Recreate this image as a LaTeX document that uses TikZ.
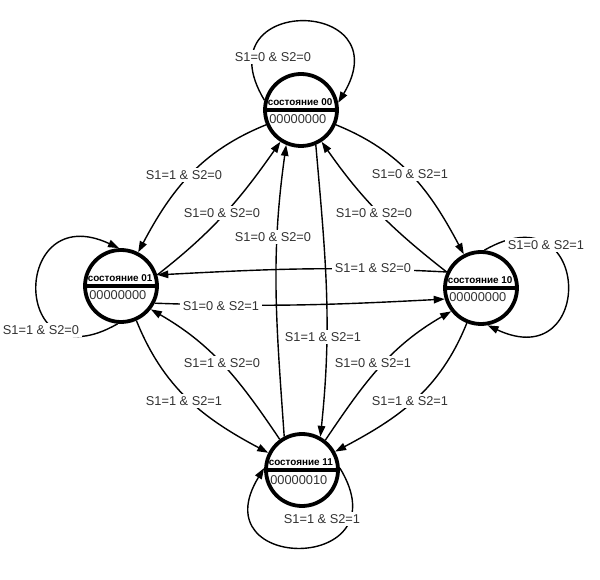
\documentclass[tikz,border=0pt]{standalone}
\usepackage{fontspec}
\setmainfont{Liberation Sans}
\usetikzlibrary{arrows.meta}
\definecolor{txt}{RGB}{50,50,50}
\begin{document}
\begin{tikzpicture}[x=1pt,y=1pt,
 state/.style={circle,draw=black,line width=3.8pt,minimum size=72pt,inner sep=0pt},
 sepline/.style={line width=3.6pt},
 title/.style={font=\fontsize{9.9}{10}\selectfont\bfseries,inner sep=0pt,anchor=base west},
 code/.style={font=\fontsize{12.8}{14}\selectfont,text=txt,inner sep=0pt,anchor=base west},
 lbl/.style={font=\fontsize{12.8}{14}\selectfont,text=txt,fill=white,inner sep=2.5pt},
 edge/.style={line width=1.4pt,-{Triangle[length=11pt,width=7.5pt]}},
]
\useasboundingbox (0,0) rectangle (600,579);
\fill[white] (0,0) rectangle (600,579);

% states
\node[state] (A) at (301,469) {};
\node[state] (B) at (121,293) {};
\node[state] (C) at (481,291) {};
\node[state] (D) at (302,109) {};

\draw[sepline] (A.west) -- (A.east);
\draw[sepline] (B.west) -- (B.east);
\draw[sepline] (C.west) -- (C.east);
\draw[sepline] (D.west) -- (D.east);

\node[title] (At) at ([xshift=4.5pt,yshift=4.5pt]A.west) {состояние 00};
\node[code]  (Ac) at ([xshift=6pt,yshift=-14pt]A.west) {00000000};
\node[title] (Bt) at ([xshift=4.5pt,yshift=4.5pt]B.west) {состояние 01};
\node[code]  (Bc) at ([xshift=6pt,yshift=-14pt]B.west) {00000000};
\node[title] (Ct) at ([xshift=4.5pt,yshift=4.5pt]C.west) {состояние 10};
\node[code]  (Cc) at ([xshift=6pt,yshift=-14pt]C.west) {00000000};
\node[title] (Dt) at ([xshift=4.5pt,yshift=4.5pt]D.west) {состояние 11};
\node[code]  (Dc) at ([xshift=6pt,yshift=-14pt]D.west) {00000010};

% transitions
\draw[edge] (A.203) to[out=202,in=62] (B.63);
\draw[edge] (B.17) to[out=38,in=235] (A.237);
\draw[edge] (D.118) to[out=94,in=262] (A.247);
\draw[edge] (A.293) to[out=275,in=84] (D.61);
\draw[edge] (A.337) to[out=338,in=118] (C.117);
\draw[edge] (C.155) to[out=142,in=305] (A.303);
\draw[edge] (C.155) to[out=177,in=3] (B.17);
\draw[edge] (B.333) to[out=-2,in=183] (C.197);
\draw[edge] (D.126) to[out=124,in=330] (B.322);
\draw[edge] (B.294) to[out=292,in=152] (D.153);
\draw[edge] (D.52) to[out=56,in=210] (C.218);
\draw[edge] (C.248) to[out=248,in=28] (D.29);

% self loops
\draw[edge] (A.165) .. controls +(121:124) and +(59:124) .. (A.11);
\draw[edge] (D.3) .. controls +(-58.5:124) and +(-121.5:124) .. (D.177);
\draw[edge] (B.265) .. controls +(210:125) and +(155:120) .. (B.93);
\draw[edge] (C.85) .. controls +(30:125) and +(-25:120) .. (C.280);

% labels
\node[lbl] (LA) at (273,522) {S1=0 \& S2=0};
\node[lbl] (L1) at (184,404) {S1=1 \& S2=0};
\node[lbl] (L2) at (222,366) {S1=0 \& S2=0};
\node[lbl] (L3) at (273,342) {S1=0 \& S2=0};
\node[lbl] (L5) at (410,405) {S1=0 \& S2=1};
\node[lbl] (L6) at (374,366) {S1=0 \& S2=0};
\node[lbl] (L7) at (373,311) {S1=1 \& S2=0};
\node[lbl] (L8) at (221,273) {S1=0 \& S2=1};
\node[lbl] (L4) at (323,242) {S1=1 \& S2=1};
\node[lbl] (L9) at (222,216) {S1=1 \& S2=0};
\node[lbl] (L10) at (184,178) {S1=1 \& S2=1};
\node[lbl] (L11) at (373,216) {S1=0 \& S2=1};
\node[lbl] (L12) at (410,178) {S1=1 \& S2=1};
\node[lbl] (LB) at (41,249) {S1=1 \& S2=0};
\node[lbl] (LC) at (546,334) {S1=0 \& S2=1};
\node[lbl] (LD) at (322,60) {S1=1 \& S2=1};
\end{tikzpicture}
\end{document}
